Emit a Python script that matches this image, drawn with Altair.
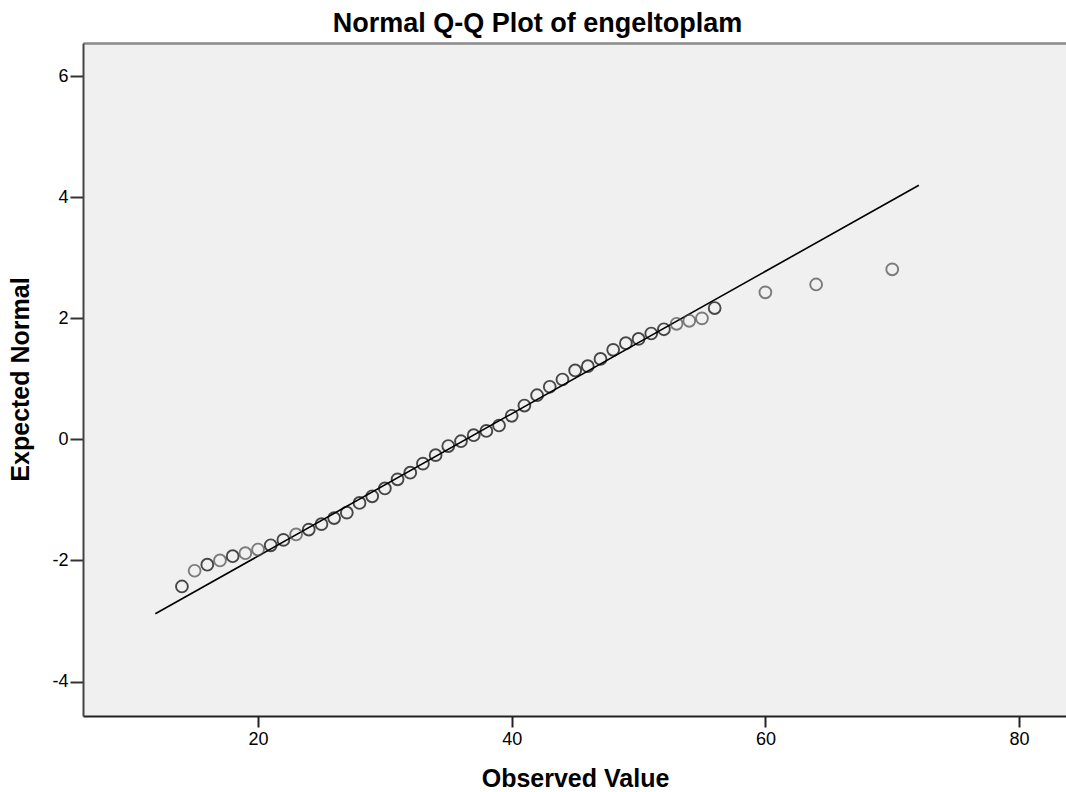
import altair as alt
import pandas as pd

observed = [14, 15, 16, 17, 18, 19, 20, 21, 22, 23, 24, 25, 26, 27, 28, 29, 30,
            31, 32, 33, 34, 35, 36, 37, 38, 39, 40, 41, 42, 43, 44, 45, 46, 47,
            48, 49, 50, 51, 52, 53, 54, 55, 56, 60, 64, 70]
expected = [-2.43, -2.17, -2.07, -2.00, -1.93, -1.88, -1.82, -1.75, -1.66, -1.57,
            -1.49, -1.40, -1.30, -1.21, -1.05, -0.94, -0.81, -0.66, -0.55, -0.40,
            -0.26, -0.11, -0.03, 0.07, 0.14, 0.23, 0.39, 0.56, 0.73, 0.87,
            0.99, 1.14, 1.21, 1.33, 1.48, 1.59, 1.66, 1.75, 1.82, 1.91,
            1.96, 2.00, 2.17, 2.43, 2.56, 2.81]
# 2 = overlapping (darker) marker, 1 = single marker
overlap = [2, 1, 2, 1, 2, 1, 1, 2, 2, 1, 2, 2, 2, 2, 2, 2, 2, 2, 2, 2, 2, 2, 2,
           2, 2, 2, 2, 2, 2, 2, 2, 2, 2, 2, 2, 2, 2, 2, 2, 1, 1, 1, 2, 1, 1, 1]

# Reference line end points
line_observed = [11.9, 72.1]
line_expected = [-2.88, 4.20]

x_ticks = [20, 40, 60, 80]
y_ticks = [-4, -2, 0, 2, 4, 6]

pts = pd.DataFrame({"obs": observed, "exp": expected, "n": overlap})
ln = pd.DataFrame({"obs": line_observed, "exp": line_expected})

xscale = alt.Scale(domain=[6.2, 83.7], nice=False, zero=False)
yscale = alt.Scale(domain=[-4.57, 6.55], nice=False, zero=False)

FONT = "Liberation Sans"

xaxis = alt.Axis(
    values=x_ticks, title="Observed Value", grid=False, orient="bottom",
    labelExpr="'' + datum.value",
    domainColor="#222222", domainWidth=2,
    tickColor="#222222", tickWidth=2, tickSize=11,
    labelFont=FONT, labelFontSize=18, labelColor="#000000", labelPadding=3,
    titleFont=FONT, titleFontSize=25, titleFontWeight="bold", titleColor="#000000",
    titleX=492, titleY=70, titleBaseline="alphabetic", titleAlign="center",
)
xaxis_top = alt.Axis(
    orient="top", title=None, labels=False, ticks=False, grid=False,
    domainColor="#8a8a8a", domainWidth=2.5,
)
yaxis = alt.Axis(
    values=y_ticks, title="Expected Normal", grid=False,
    labelExpr="'' + datum.value",
    domainColor="#444444", domainWidth=2,
    tickColor="#333333", tickWidth=2, tickSize=13,
    labelFont=FONT, labelFontSize=18, labelColor="#000000", labelPadding=2,
    titleFont=FONT, titleFontSize=25, titleFontWeight="bold", titleColor="#000000",
    titleX=-55, titleY=336, titleAngle=270, titleBaseline="alphabetic",
    titleAlign="center",
)

line = alt.Chart(ln).mark_line(color="#000000", strokeWidth=1.6).encode(
    x=alt.X("obs:Q", scale=xscale, axis=xaxis),
    y=alt.Y("exp:Q", scale=yscale, axis=yaxis),
)

points = alt.Chart(pts).mark_point(
    shape="circle", filled=False, size=140, strokeWidth=1.9
).encode(
    x=alt.X("obs:Q", scale=xscale, axis=xaxis_top),
    y=alt.Y("exp:Q", scale=yscale, axis=yaxis),
    color=alt.Color("n:O", scale=alt.Scale(domain=[1, 2], range=["#4a4a4a", "#000000"]),
                    legend=None),
)

chart = alt.layer(line, points).resolve_axis(x="independent").properties(
    width=983,
    height=673,
    autosize="none",
    padding={"left": 83, "top": 43, "right": 0, "bottom": 76},
    background="#ffffff",
    title=alt.TitleParams(
        "Normal Q-Q Plot of engeltoplam", font=FONT, fontSize=27,
        fontWeight="bold", color="#000000", anchor="middle", dx=-37,
        offset=5,
    ),
).configure_view(
    fill="#F0F0F0", stroke=None,
)

chart.save("out.html", embed_options={"renderer": "svg", "actions": False})
